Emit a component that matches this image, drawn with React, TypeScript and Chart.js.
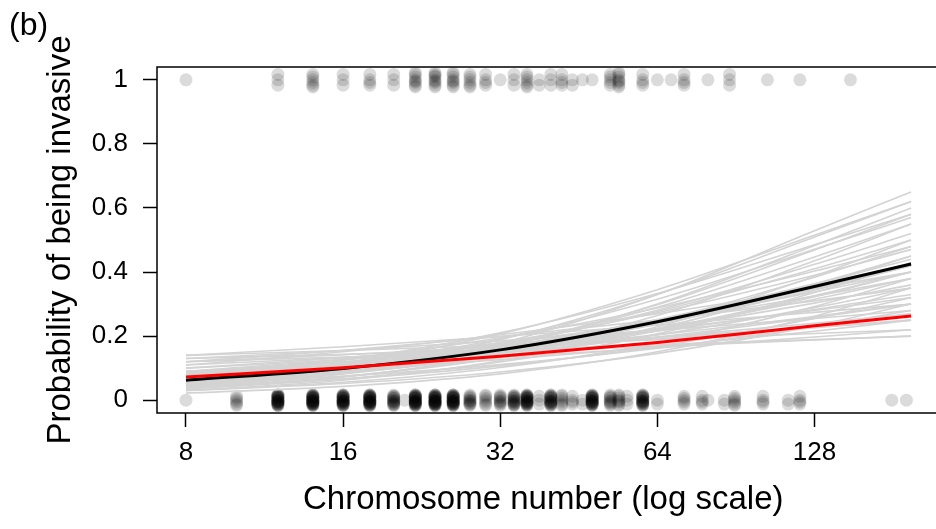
import { useEffect, useRef } from "react";
import { Chart, registerables } from "chart.js";

Chart.register(...registerables);

const FONT = "'Liberation Sans', Arial, Helvetica, sans-serif";

// Axis ticks
const X_TICKS = [8, 16, 32, 64, 128];
const Y_TICKS = [0, 0.2, 0.4, 0.6, 0.8, 1];
const Y_TICK_LABELS = ["0", "0.2", "0.4", "0.6", "0.8", "1"];

// Fitted curves, read at these chromosome numbers
const CURVE_X = [8, 16, 32, 64, 128, 196];
const MEAN_FIT = [0.0625, 0.099, 0.157, 0.245, 0.355, 0.425];
const RED_FIT = [0.072, 0.101, 0.137, 0.18, 0.232, 0.2625];
const BOOT_FITS = [
  [0.03, 0.052, 0.088, 0.146, 0.232, 0.3],
  [0.03, 0.056, 0.102, 0.178, 0.292, 0.38],
  [0.03, 0.062, 0.123, 0.229, 0.387, 0.5],
  [0.022, 0.043, 0.082, 0.151, 0.262, 0.35],
  [0.04, 0.074, 0.132, 0.224, 0.356, 0.45],
  [0.04, 0.066, 0.107, 0.168, 0.255, 0.32],
  [0.04, 0.087, 0.178, 0.33, 0.529, 0.65],
  [0.04, 0.083, 0.165, 0.3, 0.483, 0.6],
  [0.035, 0.072, 0.143, 0.264, 0.435, 0.55],
  [0.045, 0.089, 0.17, 0.298, 0.469, 0.58],
  [0.05, 0.094, 0.171, 0.29, 0.447, 0.55],
  [0.05, 0.084, 0.137, 0.216, 0.323, 0.4],
  [0.05, 0.075, 0.111, 0.162, 0.23, 0.28],
  [0.05, 0.1, 0.189, 0.33, 0.509, 0.62],
  [0.06, 0.104, 0.174, 0.277, 0.41, 0.5],
  [0.06, 0.092, 0.139, 0.204, 0.289, 0.35],
  [0.06, 0.114, 0.207, 0.345, 0.515, 0.62],
  [0.07, 0.11, 0.167, 0.247, 0.349, 0.42],
  [0.07, 0.094, 0.126, 0.166, 0.215, 0.25],
  [0.07, 0.124, 0.21, 0.333, 0.485, 0.58],
  [0.08, 0.127, 0.195, 0.288, 0.403, 0.48],
  [0.08, 0.11, 0.148, 0.197, 0.258, 0.3],
  [0.09, 0.128, 0.179, 0.245, 0.325, 0.38],
  [0.09, 0.11, 0.135, 0.163, 0.197, 0.22],
  [0.1, 0.132, 0.172, 0.221, 0.28, 0.32],
  [0.11, 0.133, 0.16, 0.191, 0.226, 0.25],
  [0.12, 0.155, 0.199, 0.25, 0.31, 0.35],
  [0.12, 0.135, 0.151, 0.168, 0.188, 0.2],
  [0.13, 0.155, 0.185, 0.218, 0.255, 0.28],
  [0.14, 0.167, 0.199, 0.234, 0.274, 0.3],
  [0.13, 0.143, 0.157, 0.173, 0.189, 0.2],
  [0.14, 0.155, 0.171, 0.189, 0.208, 0.22],
  [0.12, 0.142, 0.167, 0.196, 0.228, 0.25],
  [0.11, 0.151, 0.204, 0.27, 0.348, 0.4],
  [0.05, 0.087, 0.148, 0.239, 0.363, 0.45],
  [0.06, 0.098, 0.155, 0.237, 0.344, 0.42],
  [0.065, 0.1, 0.152, 0.223, 0.315, 0.38],
  [0.055, 0.099, 0.171, 0.281, 0.424, 0.52],
  [0.075, 0.11, 0.158, 0.223, 0.303, 0.36],
  [0.085, 0.118, 0.161, 0.216, 0.283, 0.33],
  [0.045, 0.082, 0.146, 0.246, 0.384, 0.48],
  [0.07, 0.114, 0.18, 0.273, 0.39, 0.47],
  [0.055, 0.09, 0.144, 0.222, 0.326, 0.4],
  [0.065, 0.105, 0.166, 0.252, 0.363, 0.44],
  [0.08, 0.119, 0.174, 0.247, 0.338, 0.4],
  [0.035, 0.066, 0.119, 0.207, 0.336, 0.43],
  [0.09, 0.12, 0.157, 0.204, 0.261, 0.3],
  [0.1, 0.126, 0.158, 0.196, 0.24, 0.27],
  [0.06, 0.11, 0.192, 0.315, 0.471, 0.57],
];

// Observed species: non-invasive (0) and invasive (1)
const NONINV_CHROM = [8, 10, 12, 14, 16, 18, 20, 21, 22, 24, 26, 28, 30, 32, 34, 36, 38, 40, 42, 44, 46, 48, 52, 54, 56, 60, 64, 72, 78, 80, 86, 90, 102, 114, 120, 180, 192];
const NONINV_COUNT = [1, 6, 28, 32, 28, 30, 16, 1, 30, 32, 30, 12, 7, 10, 16, 25, 3, 20, 7, 4, 2, 25, 10, 8, 3, 20, 2, 5, 4, 1, 2, 6, 4, 2, 4, 1, 1];
const INV_CHROM = [8, 12, 14, 16, 18, 20, 22, 24, 26, 28, 30, 32, 34, 36, 38, 40, 42, 44, 46, 48, 52, 54, 60, 64, 68, 72, 80, 88, 104, 120, 150];
const INV_COUNT = [1, 3, 6, 3, 4, 3, 8, 9, 8, 6, 4, 1, 3, 6, 2, 3, 4, 2, 1, 1, 5, 8, 4, 1, 1, 4, 1, 3, 1, 1, 1];
// vertical jitter pattern for overlapping 0/1 outcomes
const JITTER = [0, -0.012, 0.012, -0.006, 0.006, -0.016, 0.016, -0.003, 0.009, -0.009];

function jittered(chrom: number[], count: number[], base: number, amp: number) {
  const out: { x: number; y: number }[] = [];
  chrom.forEach((c, i) => {
    for (let k = 0; k < count[i]; k++) {
      out.push({ x: c, y: base + JITTER[k % JITTER.length] * amp });
    }
  });
  return out;
}

function curve(values: number[]) {
  return CURVE_X.map((x, i) => ({ x, y: values[i] }));
}

const boxPlugin = {
  id: "rbox",
  afterDatasetsDraw(chart: any) {
    const { ctx, chartArea } = chart;
    const { left, top, right, bottom } = chartArea;
    ctx.save();
    ctx.strokeStyle = "#000";
    ctx.lineWidth = 1.5;
    ctx.beginPath();
    ctx.moveTo(right + 20, top);
    ctx.lineTo(left, top);
    ctx.lineTo(left, bottom);
    ctx.lineTo(right + 20, bottom);
    ctx.stroke();
    ctx.restore();
  },
  afterDraw(chart: any) {
    const { ctx } = chart;
    ctx.save();
    ctx.fillStyle = "#000";
    ctx.font = `32px ${FONT}`;
    ctx.textBaseline = "alphabetic";
    ctx.textAlign = "left";
    ctx.fillText("(b)", 9, 35);
    ctx.restore();
  },
};

export default function App() {
  const ref = useRef<HTMLCanvasElement | null>(null);

  useEffect(() => {
    if (!ref.current) return;
    const lineBase = {
      showLine: true,
      pointRadius: 0,
      pointHoverRadius: 0,
      cubicInterpolationMode: "monotone" as const,
      fill: false,
    };
    const datasets: any[] = [
      { ...lineBase, label: "observed", data: curve(RED_FIT), borderColor: "#ff0000", borderWidth: 3, order: 0 },
      { ...lineBase, label: "mean", data: curve(MEAN_FIT), borderColor: "#000000", borderWidth: 3, order: 1 },
      ...BOOT_FITS.map((f, i) => ({
        ...lineBase,
        label: "boot" + i,
        data: curve(f),
        borderColor: "#d3d3d3",
        borderWidth: 1.6,
        order: 2,
      })),
      {
        label: "non-invasive",
        data: jittered(NONINV_CHROM, NONINV_COUNT, 0, 1),
        pointRadius: 6.5,
        pointBackgroundColor: "rgba(0,0,0,0.14)",
        pointBorderWidth: 0,
        showLine: false,
        order: 3,
      },
      {
        label: "invasive",
        data: jittered(INV_CHROM, INV_COUNT, 1, 1.4),
        pointRadius: 6.5,
        pointBackgroundColor: "rgba(0,0,0,0.14)",
        pointBorderWidth: 0,
        showLine: false,
        order: 3,
      },
    ];

    const chart = new Chart(ref.current, {
      type: "scatter",
      data: { datasets },
      options: {
        animation: false,
        responsive: false,
        devicePixelRatio: 1,
        layout: { padding: { top: 67, left: 0, right: 0, bottom: 0 } },
        plugins: { legend: { display: false }, tooltip: { enabled: false } },
        scales: {
          x: {
            type: "logarithmic",
            min: 7.04,
            max: 212.6,
            afterBuildTicks: (s: any) => {
              s.ticks = X_TICKS.map((v) => ({ value: v }));
            },
            afterFit: (s: any) => {
              s.height = 116;
            },
            ticks: {
              callback: (v: any) => String(v),
              autoSkip: false,
              maxRotation: 0,
              minRotation: 0,
              padding: 10,
              color: "#000",
              font: { family: FONT, size: 26 },
            },
            grid: {
              drawOnChartArea: false,
              drawTicks: true,
              tickLength: 14,
              tickColor: "#000",
              tickWidth: 1.5,
            },
            border: { display: false },
            title: {
              display: true,
              text: "Chromosome number (log scale)",
              color: "#000",
              font: { family: FONT, size: 33 },
              padding: { top: 0, bottom: 9 },
            },
          },
          y: {
            type: "linear",
            min: -0.04,
            max: 1.04,
            afterBuildTicks: (s: any) => {
              s.ticks = Y_TICKS.map((v) => ({ value: v }));
            },
            afterFit: (s: any) => {
              s.width = 157;
            },
            ticks: {
              callback: (_v: any, i: number) => Y_TICK_LABELS[i],
              autoSkip: false,
              padding: 15,
              color: "#000",
              font: { family: FONT, size: 26 },
            },
            grid: {
              drawOnChartArea: false,
              drawTicks: true,
              tickLength: 14,
              tickColor: "#000",
              tickWidth: 1.5,
            },
            border: { display: false },
            title: {
              display: true,
              text: "Probability of being invasive",
              color: "#000",
              font: { family: FONT, size: 33 },
              padding: { top: 41, bottom: 0 },
            },
          },
        },
      },
      plugins: [boxPlugin],
    });
    return () => chart.destroy();
  }, []);

  return (
    <div
      style={{
        position: "fixed",
        left: 0,
        top: 0,
        width: 936,
        height: 529,
        overflow: "hidden",
        background: "#fff",
      }}
    >
      <canvas ref={ref} width={936} height={529} style={{ display: "block" }} />
    </div>
  );
}
